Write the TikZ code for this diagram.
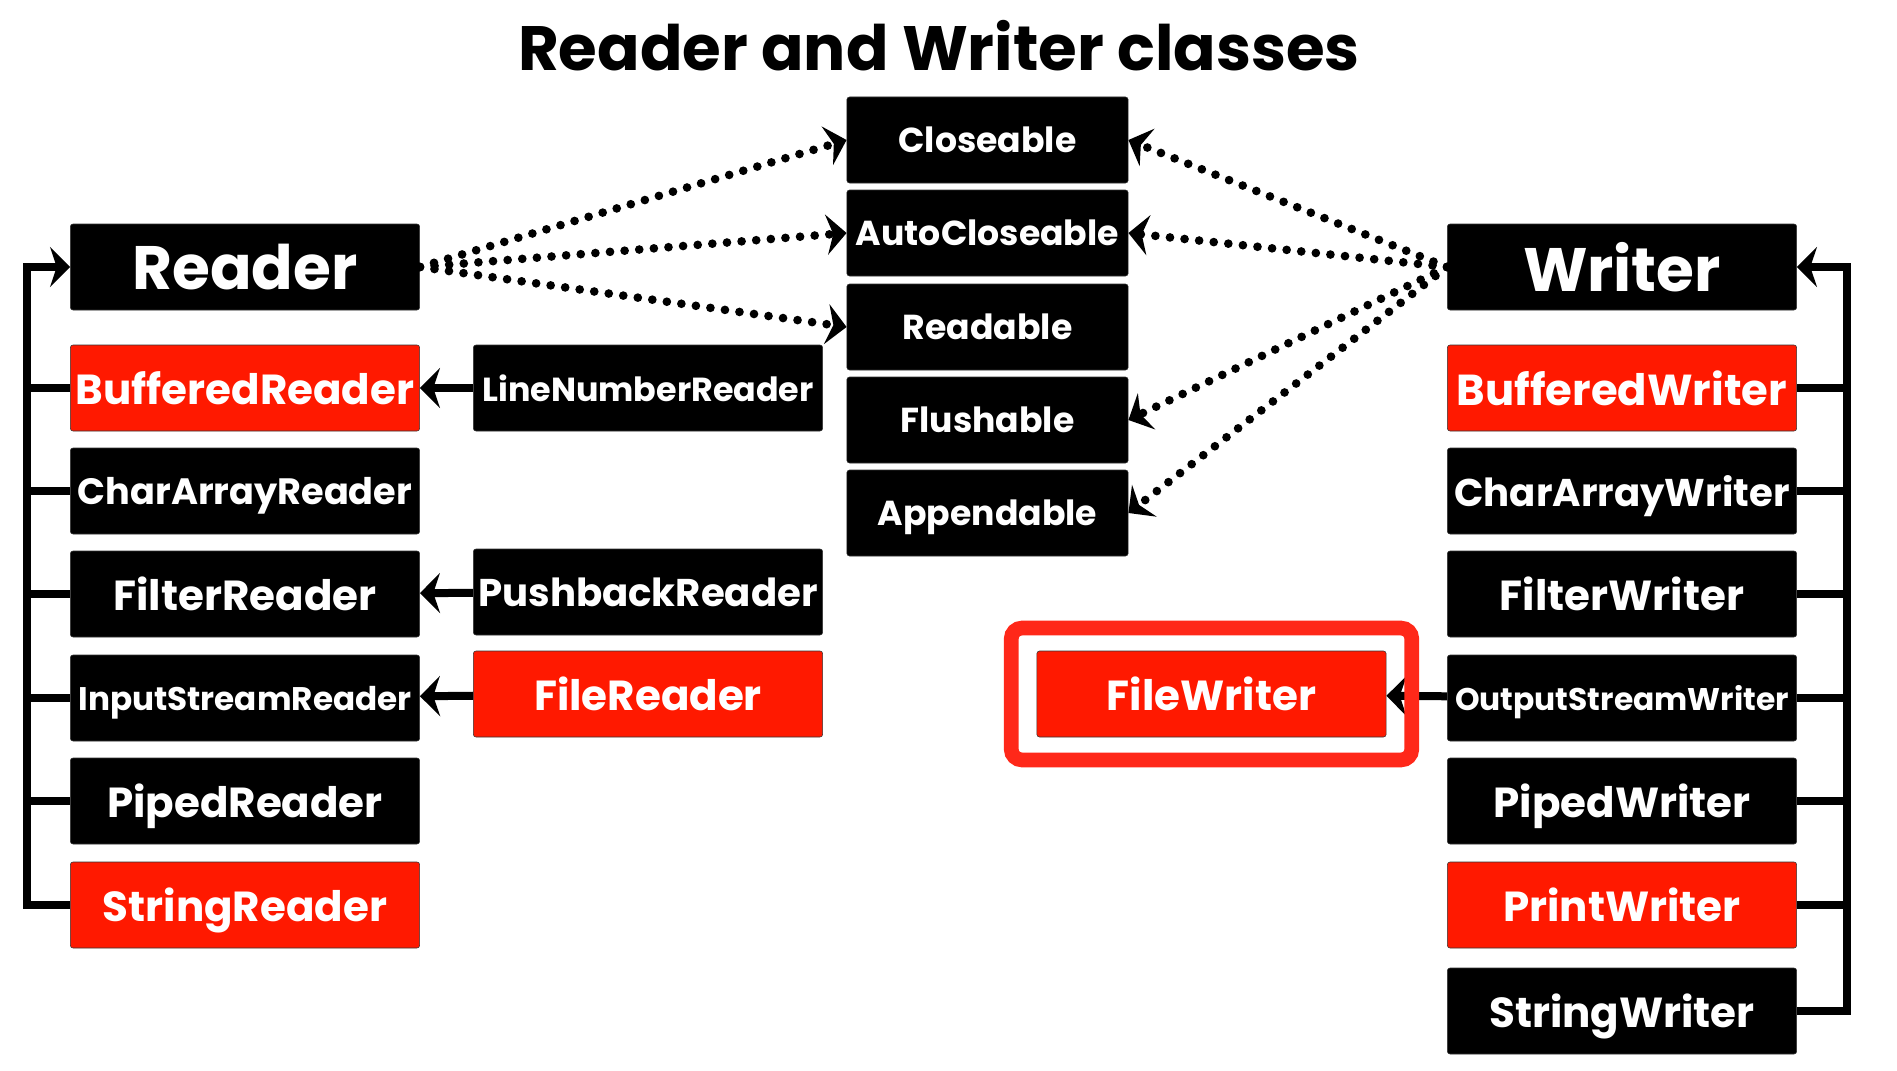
\documentclass[tikz,border=0pt]{standalone}
\usepackage{fontspec}
\setmainfont{Poppins}
\usetikzlibrary{arrows.meta,fit}
\definecolor{clsred}{RGB}{255,25,0}
\definecolor{markred}{RGB}{255,40,25}
\newcommand{\fsz}[1]{\bfseries\fontsize{#1}{#1}\selectfont}
\tikzset{
  cls/.style={fill=black, text=white, draw=black!80, line width=0.4pt, rounded corners=2pt,
    minimum width=262pt, minimum height=64.5pt, inner sep=0pt, text depth=0pt, font=\fsz{31.5}},
  redcls/.style={cls, fill=clsred},
  bigcls/.style={cls, font=\fsz{46}},
  smallcls/.style={cls, font=\fsz{24.5}},
  iface/.style={cls, minimum width=211pt, font=\fsz{26}},
  tree/.style={line width=6pt},
  head/.style={-{Stealth[length=15pt,width=30pt,inset=5pt]}},
  dots/.style={line width=6.5pt, line cap=round, dash pattern=on 0pt off 11pt},
}
\begin{document}
\begin{tikzpicture}[x=0.75pt,y=0.75pt,yscale=-1,xscale=1]
\useasboundingbox (0,0) rectangle (1897,1070);

% Text Node
\node[font=\fsz{47}] (title) at (939,46) {Reader and Writer classes};

%Shape: Reader column
\node[bigcls] (reader) at (245,267) {Reader};
\node[redcls] (bufR) at (245,388) {BufferedReader};
\node[cls, font=\fsz{27.5}] (charR) at (245,491) {CharArrayReader};
\node[cls] (filtR) at (245,594) {FilterReader};
\node[smallcls] (inR) at (245,698) {InputStreamReader};
\node[cls] (pipR) at (245,801) {PipedReader};
\node[redcls] (strR) at (245,905) {StringReader};

%Shape: Reader subclasses
\node[smallcls, font=\fsz{25}] (lineR) at (648,388) {LineNumberReader};
\node[cls, font=\fsz{29}] (pushR) at (648,592) {PushbackReader};
\node[redcls] (fileR) at (648,694) {FileReader};

%Shape: interfaces
\node[iface] (close) at (987.5,140) {Closeable};
\node[iface] (auto) at (987.5,233) {AutoCloseable};
\node[iface] (read) at (987.5,327) {Readable};
\node[iface] (flush) at (987.5,420) {Flushable};
\node[iface] (append) at (987.5,513) {Appendable};

%Shape: Writer column
\node[bigcls] (writer) at (1622,267) {Writer};
\node[redcls, font=\fsz{32.5}] (bufW) at (1622,388) {BufferedWriter};
\node[cls, font=\fsz{29}] (charW) at (1622,491) {CharArrayWriter};
\node[cls] (filtW) at (1622,594) {FilterWriter};
\node[smallcls, font=\fsz{23.5}] (outW) at (1622,698) {OutputStreamWriter};
\node[cls] (pipW) at (1622,801) {PipedWriter};
\node[redcls] (prnW) at (1622,905) {PrintWriter};
\node[cls] (strW) at (1622,1011) {StringWriter};

\node[redcls] (fileW) at (1211.5,694) {FileWriter};

%Straight Lines: trees
\coordinate (lbus) at (27,267);
\coordinate (rbus) at (1847,267);
\draw[tree,head] (strR.west) -| (lbus) -- (reader.west);
\foreach \n in {bufR,charR,filtR,inR,pipR}
  \draw[tree] (\n.west) -- (\n.west -| lbus);
\draw[tree,head] (strW.east) -| (rbus) -- (writer.east);
\foreach \n in {bufW,charW,filtW,outW,pipW,prnW}
  \draw[tree] (\n.east) -- (\n.east -| rbus);

%Straight Lines: subclasses
\draw[tree,head] (lineR) -- (bufR);
\draw[tree,head] (pushR) -- (filtR);
\draw[tree,head] (fileR) -- (inR);
\draw[tree,head] (outW) -- (fileW);

%Dotted Lines: interfaces
\foreach \i in {close,auto,read}
  \draw[dots,head] (reader.east) -- (\i.west);
\foreach \i in {close,auto,flush,append}
  \draw[dots,head] (writer.west) -- (\i.east);

%Shape: highlight
\node[draw=markred, line width=11pt, rounded corners=8pt, fit=(fileW), inner xsep=19pt, inner ysep=17pt] (mark) {};

\end{tikzpicture}
\end{document}
